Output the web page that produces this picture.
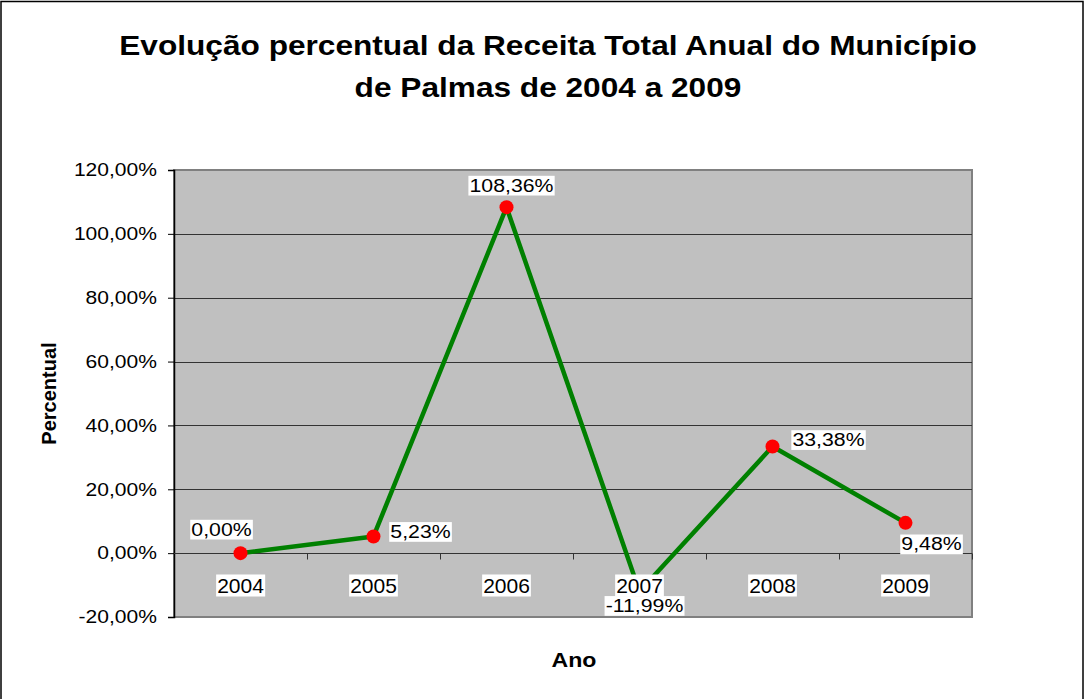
<!DOCTYPE html>
<html>
<head>
<meta charset="utf-8">
<script src="https://cdn.jsdelivr.net/npm/d3@7"></script>
<style>
  body { margin: 0; background: #fff; }
  svg { display: block; font-family: 'Liberation Sans', Arial, sans-serif; }
</style>
</head>
<body>
<div id="chart"></div>
<script>
// Data
const years = ['2004', '2005', '2006', '2007', '2008', '2009'];
const values = [0, 5.23, 108.36, -11.99, 33.38, 9.48];
const yTicks = [-20, 0, 20, 40, 60, 80, 100, 120];
const titleLines = [
  'Evolução percentual da Receita Total Anual do Município',
  'de Palmas de 2004 a 2009'
];

// Label offsets from the point (centre of the label box)
const labelOffsets = [
  [-19, -24], [47, -5], [5, -22], [5, 14], [56, -7], [26, 21]
];

const W = 1085, H = 699;
const margin = { top: 170, right: 113, bottom: 82, left: 174 };
const SX = 1.17; // text in the original is a bit wider than tall

const ptBR = d3.formatLocale({
  decimal: ',', thousands: '.', grouping: [3], currency: ['R$', ''], minus: '-'
});
const fmt = (v) => ptBR.format('.2f')(v) + '%';

const svg = d3
  .select('#chart')
  .append('svg')
  .attr('width', W)
  .attr('height', H);

// stretched text helper
function wideText(g, x, y, text, size, opts = {}) {
  const grp = g
    .append('g')
    .attr('transform', `translate(${x},${y}) scale(${opts.sx || SX},1)`);
  const t = grp
    .append('text')
    .attr('text-anchor', opts.anchor || 'middle')
    .style('font-size', size + 'px')
    .style('font-weight', opts.bold ? 'bold' : 'normal')
    .text(text);
  if (opts.central) t.attr('dominant-baseline', 'central');
  return { grp, t };
}

// outer frame
svg
  .append('rect')
  .attr('x', 1)
  .attr('y', 1.5)
  .attr('width', 1082)
  .attr('height', H + 10)
  .attr('fill', 'none')
  .attr('stroke', '#000')
  .attr('stroke-width', 1.5);

const x = d3
  .scaleBand()
  .domain(years)
  .range([margin.left, W - margin.right]);
const y = d3
  .scaleLinear()
  .domain([-20, 120])
  .range([H - margin.bottom, margin.top]);

// plot area
svg
  .append('rect')
  .attr('x', margin.left)
  .attr('y', margin.top)
  .attr('width', W - margin.right - margin.left)
  .attr('height', H - margin.bottom - margin.top)
  .attr('fill', '#c0c0c0')
  .attr('stroke', '#808080')
  .attr('stroke-width', 2);

// gridlines
svg
  .append('g')
  .selectAll('line')
  .data(yTicks.filter((t) => t !== -20 && t !== 120 && t !== 0))
  .join('line')
  .attr('x1', margin.left)
  .attr('x2', W - margin.right)
  .attr('y1', (d) => Math.round(y(d)) + 0.5)
  .attr('y2', (d) => Math.round(y(d)) + 0.5)
  .attr('stroke', '#333')
  .attr('stroke-width', 1);

// y axis
const yAxis = svg
  .append('g')
  .attr('transform', `translate(${margin.left},0)`)
  .call(
    d3
      .axisLeft(y)
      .tickValues(yTicks)
      .tickSize(6)
      .tickPadding(10)
      .tickFormat((d) => fmt(d))
  );
yAxis.select('.domain').attr('stroke', '#000').attr('stroke-width', 1.5);
yAxis.selectAll('.tick line').attr('stroke', '#000');
yAxis
  .selectAll('.tick text')
  .attr('fill', '#000')
  .attr('x', -17 / SX)
  .attr('transform', `scale(${SX},1)`)
  .style('font-size', '18px')
  .style('font-family', "'Liberation Sans', Arial, sans-serif");

// x axis line at 0 with ticks on category boundaries
const x0 = Math.round(y(0)) + 0.5;
svg
  .append('line')
  .attr('x1', margin.left)
  .attr('x2', W - margin.right)
  .attr('y1', x0)
  .attr('y2', x0)
  .attr('stroke', '#333');
svg
  .append('g')
  .selectAll('line')
  .data(years)
  .join('line')
  .attr('x1', (d) => Math.round(x(d) + x.bandwidth()) + 0.5)
  .attr('x2', (d) => Math.round(x(d) + x.bandwidth()) + 0.5)
  .attr('y1', x0)
  .attr('y2', x0 + 6)
  .attr('stroke', '#333');

// line
const line = d3
  .line()
  .x((d, i) => x(years[i]) + x.bandwidth() / 2)
  .y((d) => y(d));

svg
  .append('path')
  .datum(values)
  .attr('fill', 'none')
  .attr('stroke', '#008000')
  .attr('stroke-width', 4.5)
  .attr('stroke-linejoin', 'round')
  .attr('d', line);

svg
  .append('g')
  .selectAll('circle')
  .data(values)
  .join('circle')
  .attr('cx', (d, i) => x(years[i]) + x.bandwidth() / 2)
  .attr('cy', (d) => y(d))
  .attr('r', 7)
  .attr('fill', '#ff0000');

// boxed label helper
function boxLabel(g, cx, cy, text, size, sx) {
  const { grp, t } = wideText(g, cx, cy, text, size, { central: true, sx: sx });
  const b = t.node().getBBox();
  grp
    .insert('rect', 'text')
    .attr('fill', '#fff')
    .attr('x', b.x - 1)
    .attr('y', b.y + 1)
    .attr('width', b.width + 2)
    .attr('height', b.height - 1);
}

// data labels
const labels = svg.append('g');
values.forEach((v, i) => {
  const px = x(years[i]) + x.bandwidth() / 2;
  const py = y(v);
  boxLabel(labels, px + labelOffsets[i][0], py + labelOffsets[i][1], fmt(v), 19, 1.12);
});

// category labels
const cats = svg.append('g');
years.forEach((yr) => {
  boxLabel(cats, x(yr) + x.bandwidth() / 2, 585, yr, 21, 1.0);
});

// title
const titleG = svg.append('g');
titleLines.forEach((d, i) => {
  wideText(titleG, 548, 55 + i * 42, d, 28, { bold: true, sx: 1.13 });
});

// axis titles
svg
  .append('text')
  .attr('transform', `translate(56, ${(margin.top + H - margin.bottom) / 2}) rotate(-90)`)
  .attr('text-anchor', 'middle')
  .style('font-size', '20px')
  .style('font-weight', 'bold')
  .text('Percentual');

wideText(svg, 574, 667, 'Ano', 21, { bold: true, sx: 1.1 });
</script>
</body>
</html>
